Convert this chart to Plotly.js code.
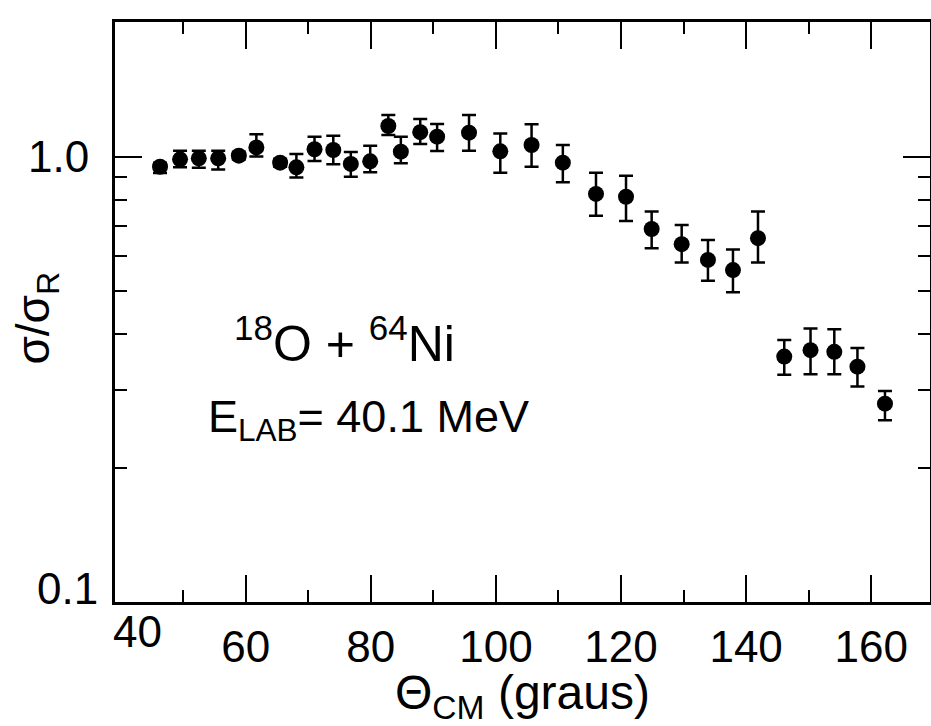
<!DOCTYPE html>
<html>
<head>
<meta charset="utf-8">
<script src="https://cdn.plot.ly/plotly-3.0.1.min.js"></script>
<style>
  html, body { margin: 0; padding: 0; background: #fff; }
  #chart { width: 931px; height: 726px; }
</style>
</head>
<body>
<div id="chart"></div>
<script>
// Scattering angle in the centre-of-mass frame (degrees)
var theta = [46.3, 49.5, 52.5, 55.6, 58.9, 61.7, 65.5, 68.1, 71.0, 74.0, 76.8, 79.9,
             82.8, 84.8, 87.9, 90.6, 95.7, 100.7, 105.7, 110.7, 116.0, 120.8, 124.9,
             129.7, 133.9, 137.9, 141.9, 146.1, 150.3, 154.1, 157.8, 162.2];
// Ratio to Rutherford cross section
var ratio = [0.951, 0.988, 0.993, 0.993, 1.007, 1.051, 0.971, 0.948, 1.041, 1.037, 0.965, 0.978,
             1.174, 1.028, 1.137, 1.111, 1.134, 1.030, 1.064, 0.971, 0.826, 0.814, 0.689,
             0.637, 0.587, 0.557, 0.657, 0.356, 0.368, 0.365, 0.338, 0.279];
// Error bars (upper / lower)
var errPlus = [0.020, 0.045, 0.040, 0.040, 0.020, 0.074, 0.020, 0.068, 0.070, 0.080, 0.061, 0.082,
               0.069, 0.083, 0.080, 0.075, 0.109, 0.100, 0.120, 0.093, 0.096, 0.094, 0.065,
               0.066, 0.064, 0.063, 0.097, 0.032, 0.044, 0.045, 0.034, 0.019];
var errMinus = [0.030, 0.040, 0.047, 0.055, 0.020, 0.049, 0.020, 0.049, 0.061, 0.074, 0.062, 0.054,
                0.053, 0.060, 0.067, 0.079, 0.101, 0.108, 0.113, 0.094, 0.088, 0.096, 0.065,
                0.058, 0.060, 0.060, 0.078, 0.032, 0.043, 0.040, 0.033, 0.023];

var xMajor = [60, 80, 100, 120, 140, 160];
var xMajorText = ['60', '80', '100', '120', '140', '160'];
var xMinor = [50, 70, 90, 110, 130, 150];
var yMajor = [1];
var yMajorText = ['1.0'];
var yMinor = [0.2, 0.3, 0.4, 0.5, 0.6, 0.7, 0.8, 0.9];

var FONT = 'Liberation Sans, Arial, sans-serif';

var trace = {
  x: theta,
  y: ratio,
  type: 'scatter',
  mode: 'markers',
  marker: { color: '#000', size: 16, symbol: 'circle' },
  error_y: {
    type: 'data', symmetric: false,
    array: errPlus, arrayminus: errMinus,
    color: '#000', thickness: 2.5, width: 7, visible: true
  },
  showlegend: false,
  hoverinfo: 'x+y'
};

var layout = {
  width: 931, height: 726,
  margin: { l: 115, r: 1, t: 22, b: 124, pad: 0 },
  paper_bgcolor: '#fff', plot_bgcolor: '#fff',
  font: { family: FONT, color: '#000', size: 44 },
  showlegend: false,
  xaxis: {
    type: 'linear', range: [39.1, 169.4],
    showline: true, linewidth: 3, linecolor: '#000', mirror: 'ticks',
    ticks: 'inside', ticklen: 27, tickwidth: 2, tickcolor: '#000',
    tickmode: 'array', tickvals: xMajor, ticktext: xMajorText,
    tickfont: { family: FONT, size: 44, color: '#000' },
    ticklabelstandoff: 4,
    minor: { tickmode: 'array', tickvals: xMinor, ticks: 'inside', ticklen: 12, tickwidth: 2, tickcolor: '#000', showgrid: false },
    showgrid: false, zeroline: false,
    title: { text: 'Θ<sub>CM</sub> (graus)', font: { family: FONT, size: 48, color: '#000' }, standoff: 12 }
  },
  yaxis: {
    type: 'log', range: [-1, 0.3034],
    showline: true, linewidth: 3, linecolor: '#000', mirror: 'ticks',
    ticks: 'inside', ticklen: 27, tickwidth: 2, tickcolor: '#000',
    tickmode: 'array', tickvals: yMajor, ticktext: yMajorText,
    tickfont: { family: FONT, size: 44, color: '#000' },
    ticklabelstandoff: 14,
    minor: { tickmode: 'array', tickvals: yMinor, ticks: 'inside', ticklen: 12, tickwidth: 2, tickcolor: '#000', showgrid: false },
    showgrid: false, zeroline: false
  },
  annotations: [
    { text: '0.1', xref: 'paper', yref: 'paper', x: -0.018, y: 0.024, xanchor: 'right', yanchor: 'middle',
      showarrow: false, font: { family: FONT, size: 44, color: '#000' } },
    { text: '40', xref: 'paper', yref: 'paper', x: 0.028, y: -0.05, xanchor: 'center', yanchor: 'middle',
      showarrow: false, font: { family: FONT, size: 44, color: '#000' } },
    { text: 'σ/σ<sub>R</sub>', xref: 'paper', yref: 'paper', x: -0.096, y: 0.49, xanchor: 'center', yanchor: 'middle',
      textangle: -90, showarrow: false, font: { family: FONT, size: 46, color: '#000' } },
    { text: '<sup>18</sup>O + <sup>64</sup>Ni', xref: 'paper', yref: 'paper', x: 0.282, y: 0.452, xanchor: 'center', yanchor: 'middle',
      showarrow: false, font: { family: FONT, size: 50, color: '#000' } },
    { text: 'E<sub>LAB</sub>= 40.1 MeV', xref: 'paper', yref: 'paper', x: 0.311, y: 0.314, xanchor: 'center', yanchor: 'middle',
      showarrow: false, font: { family: FONT, size: 45, color: '#000' } }
  ]
};

Plotly.newPlot('chart', [trace], layout, { displayModeBar: false, staticPlot: true });
</script>
</body>
</html>
